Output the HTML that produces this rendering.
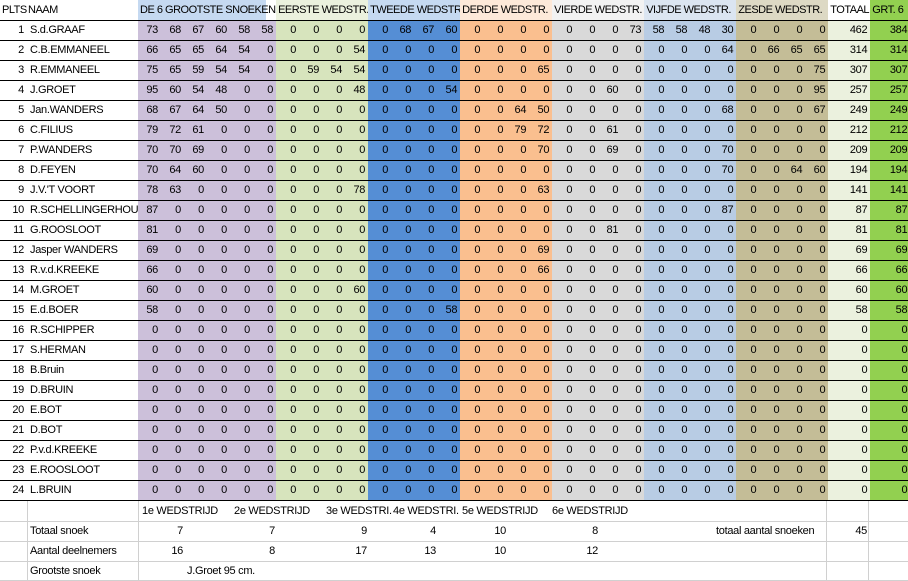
<!DOCTYPE html>
<html><head><meta charset="utf-8">
<style>
body{margin:0;background:#fff;width:908px;height:581px;overflow:hidden;font-family:"Liberation Sans",sans-serif;font-size:11px;color:#000;position:relative;letter-spacing:-0.3px}
table{border-collapse:collapse;table-layout:fixed;position:absolute;left:0;top:0;width:908px}
td{padding:0 3px 0 0;height:19px;border-bottom:1px solid #000;text-align:right;white-space:nowrap;overflow:hidden;line-height:19px}
td:nth-child(2){text-align:left;padding-left:3px}
tr.h td{height:20px;text-align:left;padding:0 0 0 2px;letter-spacing:-0.5px}
tbody tr td:nth-child(n+3):nth-child(-n+8){background:#ccc0da}
tbody tr td:nth-child(n+9):nth-child(-n+12){background:#d7e4bd}
tbody tr td:nth-child(n+13):nth-child(-n+16){background:#558ed5}
tbody tr td:nth-child(n+17):nth-child(-n+20){background:#fabf8f}
tbody tr td:nth-child(n+21):nth-child(-n+24){background:#d9d9d9}
tbody tr td:nth-child(n+25):nth-child(-n+28){background:#b8cce4}
tbody tr td:nth-child(n+29):nth-child(-n+32){background:#c4bd97}
tbody tr td:nth-child(33){background:#ebf1de}
tbody tr td:nth-child(34){background:#92d050}
.f{position:absolute;left:0;top:501px;width:908px;height:80px}
.f .l{position:absolute;left:0;width:908px;height:1px;background:#d0d0d0}
.f .v{position:absolute;top:0;width:1px;height:80px;background:#d0d0d0}
.f span{position:absolute;line-height:20px;white-space:nowrap}
.r{text-align:right}
</style></head><body>
<table>
<colgroup><col style="width:27px"><col style="width:111px"><col span="6" style="width:23px"><col span="24" style="width:23px"><col style="width:42px"><col style="width:40px"></colgroup>
<thead><tr class="h">
<td style="text-align:left;padding-left:2px">PLTS</td><td style="padding-left:1px">NAAM</td>
<td colspan="6" style="background:linear-gradient(90deg,#c5d9f1 0,#c5d9f1 128px,#fff 128px)">DE 6 GROOTSTE SNOEKEN</td>
<td colspan="4" style="background:#ebf1de">EERSTE WEDSTR.</td>
<td colspan="4" style="background:#c5d9f1">TWEEDE WEDSTR</td>
<td colspan="4" style="background:#fde9d9">DERDE WEDSTR.</td>
<td colspan="4" style="background:#f2f2f2">VIERDE WEDSTR.</td>
<td colspan="4" style="background:#dbe5f1">VIJFDE WEDSTR.</td>
<td colspan="4" style="background:#ddd9c4">ZESDE WEDSTR.</td>
<td style="background:#fff">TOTAAL</td><td style="background:#92d050">GRT. 6</td>
</tr></thead>
<tbody>
<tr><td>1</td><td>S.d.GRAAF</td><td>73</td><td>68</td><td>67</td><td>60</td><td>58</td><td>58</td><td>0</td><td>0</td><td>0</td><td>0</td><td>0</td><td>68</td><td>67</td><td>60</td><td>0</td><td>0</td><td>0</td><td>0</td><td>0</td><td>0</td><td>0</td><td>73</td><td>58</td><td>58</td><td>48</td><td>30</td><td>0</td><td>0</td><td>0</td><td>0</td><td>462</td><td>384</td></tr>
<tr><td>2</td><td>C.B.EMMANEEL</td><td>66</td><td>65</td><td>65</td><td>64</td><td>54</td><td>0</td><td>0</td><td>0</td><td>0</td><td>54</td><td>0</td><td>0</td><td>0</td><td>0</td><td>0</td><td>0</td><td>0</td><td>0</td><td>0</td><td>0</td><td>0</td><td>0</td><td>0</td><td>0</td><td>0</td><td>64</td><td>0</td><td>66</td><td>65</td><td>65</td><td>314</td><td>314</td></tr>
<tr><td>3</td><td>R.EMMANEEL</td><td>75</td><td>65</td><td>59</td><td>54</td><td>54</td><td>0</td><td>0</td><td>59</td><td>54</td><td>54</td><td>0</td><td>0</td><td>0</td><td>0</td><td>0</td><td>0</td><td>0</td><td>65</td><td>0</td><td>0</td><td>0</td><td>0</td><td>0</td><td>0</td><td>0</td><td>0</td><td>0</td><td>0</td><td>0</td><td>75</td><td>307</td><td>307</td></tr>
<tr><td>4</td><td>J.GROET</td><td>95</td><td>60</td><td>54</td><td>48</td><td>0</td><td>0</td><td>0</td><td>0</td><td>0</td><td>48</td><td>0</td><td>0</td><td>0</td><td>54</td><td>0</td><td>0</td><td>0</td><td>0</td><td>0</td><td>0</td><td>60</td><td>0</td><td>0</td><td>0</td><td>0</td><td>0</td><td>0</td><td>0</td><td>0</td><td>95</td><td>257</td><td>257</td></tr>
<tr><td>5</td><td>Jan.WANDERS</td><td>68</td><td>67</td><td>64</td><td>50</td><td>0</td><td>0</td><td>0</td><td>0</td><td>0</td><td>0</td><td>0</td><td>0</td><td>0</td><td>0</td><td>0</td><td>0</td><td>64</td><td>50</td><td>0</td><td>0</td><td>0</td><td>0</td><td>0</td><td>0</td><td>0</td><td>68</td><td>0</td><td>0</td><td>0</td><td>67</td><td>249</td><td>249</td></tr>
<tr><td>6</td><td>C.FILIUS</td><td>79</td><td>72</td><td>61</td><td>0</td><td>0</td><td>0</td><td>0</td><td>0</td><td>0</td><td>0</td><td>0</td><td>0</td><td>0</td><td>0</td><td>0</td><td>0</td><td>79</td><td>72</td><td>0</td><td>0</td><td>61</td><td>0</td><td>0</td><td>0</td><td>0</td><td>0</td><td>0</td><td>0</td><td>0</td><td>0</td><td>212</td><td>212</td></tr>
<tr><td>7</td><td>P.WANDERS</td><td>70</td><td>70</td><td>69</td><td>0</td><td>0</td><td>0</td><td>0</td><td>0</td><td>0</td><td>0</td><td>0</td><td>0</td><td>0</td><td>0</td><td>0</td><td>0</td><td>0</td><td>70</td><td>0</td><td>0</td><td>69</td><td>0</td><td>0</td><td>0</td><td>0</td><td>70</td><td>0</td><td>0</td><td>0</td><td>0</td><td>209</td><td>209</td></tr>
<tr><td>8</td><td>D.FEYEN</td><td>70</td><td>64</td><td>60</td><td>0</td><td>0</td><td>0</td><td>0</td><td>0</td><td>0</td><td>0</td><td>0</td><td>0</td><td>0</td><td>0</td><td>0</td><td>0</td><td>0</td><td>0</td><td>0</td><td>0</td><td>0</td><td>0</td><td>0</td><td>0</td><td>0</td><td>70</td><td>0</td><td>0</td><td>64</td><td>60</td><td>194</td><td>194</td></tr>
<tr><td>9</td><td>J.V.'T VOORT</td><td>78</td><td>63</td><td>0</td><td>0</td><td>0</td><td>0</td><td>0</td><td>0</td><td>0</td><td>78</td><td>0</td><td>0</td><td>0</td><td>0</td><td>0</td><td>0</td><td>0</td><td>63</td><td>0</td><td>0</td><td>0</td><td>0</td><td>0</td><td>0</td><td>0</td><td>0</td><td>0</td><td>0</td><td>0</td><td>0</td><td>141</td><td>141</td></tr>
<tr><td>10</td><td>R.SCHELLINGERHOUT</td><td>87</td><td>0</td><td>0</td><td>0</td><td>0</td><td>0</td><td>0</td><td>0</td><td>0</td><td>0</td><td>0</td><td>0</td><td>0</td><td>0</td><td>0</td><td>0</td><td>0</td><td>0</td><td>0</td><td>0</td><td>0</td><td>0</td><td>0</td><td>0</td><td>0</td><td>87</td><td>0</td><td>0</td><td>0</td><td>0</td><td>87</td><td>87</td></tr>
<tr><td>11</td><td>G.ROOSLOOT</td><td>81</td><td>0</td><td>0</td><td>0</td><td>0</td><td>0</td><td>0</td><td>0</td><td>0</td><td>0</td><td>0</td><td>0</td><td>0</td><td>0</td><td>0</td><td>0</td><td>0</td><td>0</td><td>0</td><td>0</td><td>81</td><td>0</td><td>0</td><td>0</td><td>0</td><td>0</td><td>0</td><td>0</td><td>0</td><td>0</td><td>81</td><td>81</td></tr>
<tr><td>12</td><td>Jasper WANDERS</td><td>69</td><td>0</td><td>0</td><td>0</td><td>0</td><td>0</td><td>0</td><td>0</td><td>0</td><td>0</td><td>0</td><td>0</td><td>0</td><td>0</td><td>0</td><td>0</td><td>0</td><td>69</td><td>0</td><td>0</td><td>0</td><td>0</td><td>0</td><td>0</td><td>0</td><td>0</td><td>0</td><td>0</td><td>0</td><td>0</td><td>69</td><td>69</td></tr>
<tr><td>13</td><td>R.v.d.KREEKE</td><td>66</td><td>0</td><td>0</td><td>0</td><td>0</td><td>0</td><td>0</td><td>0</td><td>0</td><td>0</td><td>0</td><td>0</td><td>0</td><td>0</td><td>0</td><td>0</td><td>0</td><td>66</td><td>0</td><td>0</td><td>0</td><td>0</td><td>0</td><td>0</td><td>0</td><td>0</td><td>0</td><td>0</td><td>0</td><td>0</td><td>66</td><td>66</td></tr>
<tr><td>14</td><td>M.GROET</td><td>60</td><td>0</td><td>0</td><td>0</td><td>0</td><td>0</td><td>0</td><td>0</td><td>0</td><td>60</td><td>0</td><td>0</td><td>0</td><td>0</td><td>0</td><td>0</td><td>0</td><td>0</td><td>0</td><td>0</td><td>0</td><td>0</td><td>0</td><td>0</td><td>0</td><td>0</td><td>0</td><td>0</td><td>0</td><td>0</td><td>60</td><td>60</td></tr>
<tr><td>15</td><td>E.d.BOER</td><td>58</td><td>0</td><td>0</td><td>0</td><td>0</td><td>0</td><td>0</td><td>0</td><td>0</td><td>0</td><td>0</td><td>0</td><td>0</td><td>58</td><td>0</td><td>0</td><td>0</td><td>0</td><td>0</td><td>0</td><td>0</td><td>0</td><td>0</td><td>0</td><td>0</td><td>0</td><td>0</td><td>0</td><td>0</td><td>0</td><td>58</td><td>58</td></tr>
<tr><td>16</td><td>R.SCHIPPER</td><td>0</td><td>0</td><td>0</td><td>0</td><td>0</td><td>0</td><td>0</td><td>0</td><td>0</td><td>0</td><td>0</td><td>0</td><td>0</td><td>0</td><td>0</td><td>0</td><td>0</td><td>0</td><td>0</td><td>0</td><td>0</td><td>0</td><td>0</td><td>0</td><td>0</td><td>0</td><td>0</td><td>0</td><td>0</td><td>0</td><td>0</td><td>0</td></tr>
<tr><td>17</td><td>S.HERMAN</td><td>0</td><td>0</td><td>0</td><td>0</td><td>0</td><td>0</td><td>0</td><td>0</td><td>0</td><td>0</td><td>0</td><td>0</td><td>0</td><td>0</td><td>0</td><td>0</td><td>0</td><td>0</td><td>0</td><td>0</td><td>0</td><td>0</td><td>0</td><td>0</td><td>0</td><td>0</td><td>0</td><td>0</td><td>0</td><td>0</td><td>0</td><td>0</td></tr>
<tr><td>18</td><td>B.Bruin</td><td>0</td><td>0</td><td>0</td><td>0</td><td>0</td><td>0</td><td>0</td><td>0</td><td>0</td><td>0</td><td>0</td><td>0</td><td>0</td><td>0</td><td>0</td><td>0</td><td>0</td><td>0</td><td>0</td><td>0</td><td>0</td><td>0</td><td>0</td><td>0</td><td>0</td><td>0</td><td>0</td><td>0</td><td>0</td><td>0</td><td>0</td><td>0</td></tr>
<tr><td>19</td><td>D.BRUIN</td><td>0</td><td>0</td><td>0</td><td>0</td><td>0</td><td>0</td><td>0</td><td>0</td><td>0</td><td>0</td><td>0</td><td>0</td><td>0</td><td>0</td><td>0</td><td>0</td><td>0</td><td>0</td><td>0</td><td>0</td><td>0</td><td>0</td><td>0</td><td>0</td><td>0</td><td>0</td><td>0</td><td>0</td><td>0</td><td>0</td><td>0</td><td>0</td></tr>
<tr><td>20</td><td>E.BOT</td><td>0</td><td>0</td><td>0</td><td>0</td><td>0</td><td>0</td><td>0</td><td>0</td><td>0</td><td>0</td><td>0</td><td>0</td><td>0</td><td>0</td><td>0</td><td>0</td><td>0</td><td>0</td><td>0</td><td>0</td><td>0</td><td>0</td><td>0</td><td>0</td><td>0</td><td>0</td><td>0</td><td>0</td><td>0</td><td>0</td><td>0</td><td>0</td></tr>
<tr><td>21</td><td>D.BOT</td><td>0</td><td>0</td><td>0</td><td>0</td><td>0</td><td>0</td><td>0</td><td>0</td><td>0</td><td>0</td><td>0</td><td>0</td><td>0</td><td>0</td><td>0</td><td>0</td><td>0</td><td>0</td><td>0</td><td>0</td><td>0</td><td>0</td><td>0</td><td>0</td><td>0</td><td>0</td><td>0</td><td>0</td><td>0</td><td>0</td><td>0</td><td>0</td></tr>
<tr><td>22</td><td>P.v.d.KREEKE</td><td>0</td><td>0</td><td>0</td><td>0</td><td>0</td><td>0</td><td>0</td><td>0</td><td>0</td><td>0</td><td>0</td><td>0</td><td>0</td><td>0</td><td>0</td><td>0</td><td>0</td><td>0</td><td>0</td><td>0</td><td>0</td><td>0</td><td>0</td><td>0</td><td>0</td><td>0</td><td>0</td><td>0</td><td>0</td><td>0</td><td>0</td><td>0</td></tr>
<tr><td>23</td><td>E.ROOSLOOT</td><td>0</td><td>0</td><td>0</td><td>0</td><td>0</td><td>0</td><td>0</td><td>0</td><td>0</td><td>0</td><td>0</td><td>0</td><td>0</td><td>0</td><td>0</td><td>0</td><td>0</td><td>0</td><td>0</td><td>0</td><td>0</td><td>0</td><td>0</td><td>0</td><td>0</td><td>0</td><td>0</td><td>0</td><td>0</td><td>0</td><td>0</td><td>0</td></tr>
<tr><td>24</td><td>L.BRUIN</td><td>0</td><td>0</td><td>0</td><td>0</td><td>0</td><td>0</td><td>0</td><td>0</td><td>0</td><td>0</td><td>0</td><td>0</td><td>0</td><td>0</td><td>0</td><td>0</td><td>0</td><td>0</td><td>0</td><td>0</td><td>0</td><td>0</td><td>0</td><td>0</td><td>0</td><td>0</td><td>0</td><td>0</td><td>0</td><td>0</td><td>0</td><td>0</td></tr>
</tbody></table>
<div class="f">
<div class="l" style="top:20px"></div><div class="l" style="top:40px"></div><div class="l" style="top:60px"></div><div class="l" style="top:79px"></div>
<div class="v" style="left:27px"></div><div class="v" style="left:138px"></div><div class="v" style="left:826px"></div><div class="v" style="left:868px"></div>
<span style="left:142px;top:0">1e WEDSTRIJD</span><span style="left:234px;top:0">2e WEDSTRIJD</span><span style="left:326px;top:0">3e WEDSTRI.</span><span style="left:393px;top:0">4e WEDSTRI.</span><span style="left:462px;top:0">5e WEDSTRIJD</span><span style="left:552px;top:0">6e WEDSTRIJD</span>
<span style="left:30px;top:20px">Totaal snoek</span>
<span class="r" style="right:725px;top:20px">7</span><span class="r" style="right:633px;top:20px">7</span><span class="r" style="right:541px;top:20px">9</span><span class="r" style="right:472px;top:20px">4</span><span class="r" style="right:402px;top:20px">10</span><span class="r" style="right:310px;top:20px">8</span>
<span style="left:716px;top:20px;width:104px;overflow:hidden">totaal aantal snoeken</span><span class="r" style="right:41px;top:20px">45</span>
<span style="left:30px;top:40px">Aantal deelnemers</span>
<span class="r" style="right:725px;top:40px">16</span><span class="r" style="right:633px;top:40px">8</span><span class="r" style="right:541px;top:40px">17</span><span class="r" style="right:472px;top:40px">13</span><span class="r" style="right:402px;top:40px">10</span><span class="r" style="right:310px;top:40px">12</span>
<span style="left:30px;top:60px">Grootste snoek</span><span style="left:187px;top:60px">J.Groet 95 cm.</span>
</div>
</body></html>
